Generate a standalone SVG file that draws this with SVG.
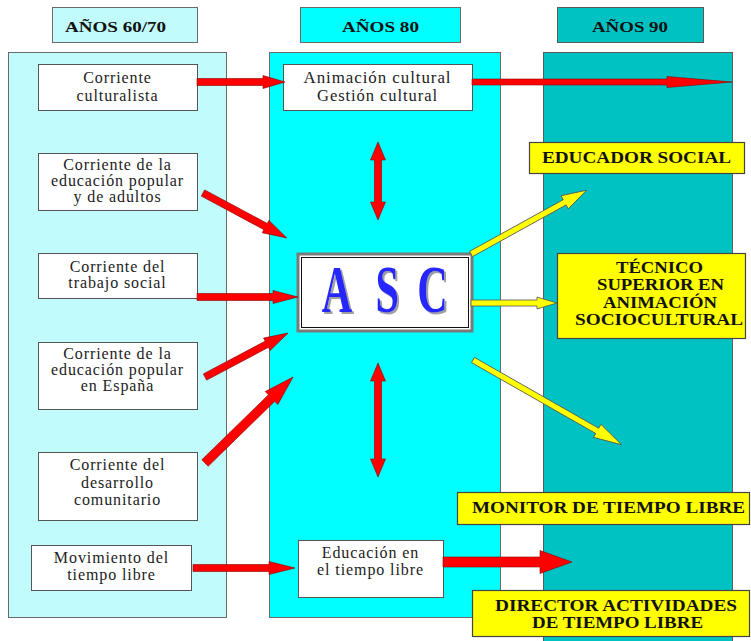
<svg xmlns="http://www.w3.org/2000/svg" width="751" height="641" viewBox="0 0 751 641">
<style>
.c1{fill:#c2fbfb;stroke:#6a6a6a;stroke-width:1}
.c2{fill:#00ffff;stroke:#6a6a6a;stroke-width:1}
.c3{fill:#00c2c2;stroke:#5a5a5a;stroke-width:1}
.wb{fill:#ffffff;stroke:#555;stroke-width:1}
.yb{fill:#ffff00;stroke:#444;stroke-width:1.2}
.hd{font-family:"Liberation Serif","Times New Roman",serif;font-weight:bold;font-size:15px;fill:#111}
.tx{font-family:"Liberation Serif","Times New Roman",serif;font-size:16px;letter-spacing:0.9px;fill:#222;text-anchor:middle}
.yt{font-family:"Liberation Serif","Times New Roman",serif;font-weight:bold;font-size:16px;fill:#111}
.ra{fill:#ff0000;stroke:#8a0000;stroke-width:0.6}
.ya{fill:#ffff00;stroke:#555;stroke-width:0.8}
.asc{font-family:"Liberation Serif","Times New Roman",serif;font-weight:bold;font-size:68px;text-anchor:middle;fill:#2626ff}
</style>
<defs>
<filter id="shadow" x="-20%" y="-20%" width="150%" height="150%">
<feFlood flood-color="#a0a0a0" result="f"/>
<feComposite in="f" in2="SourceAlpha" operator="in" result="s"/>
<feOffset in="s" dx="4" dy="2" result="o"/>
<feMerge><feMergeNode in="o"/><feMergeNode in="SourceGraphic"/></feMerge>
</filter>
</defs>
<rect width="751" height="641" fill="#ffffff"/>
<g id="columns">
<rect class="c1" x="8.5" y="52.5" width="218" height="565"/>
<rect class="c2" x="269.5" y="52.5" width="231" height="565"/>
<rect class="c3" x="543.5" y="52.5" width="189" height="595"/>
</g>
<g id="h6070"><rect class="c1" x="52.5" y="7.5" width="145" height="35"/><text class="hd" x="65" y="32" textLength="101" lengthAdjust="spacingAndGlyphs">AÑOS 60/70</text></g>
<g id="h80"><rect class="c2" x="300.5" y="7.5" width="160" height="35"/><text class="hd" x="342" y="32" textLength="77" lengthAdjust="spacingAndGlyphs">AÑOS 80</text></g>
<g id="h90"><rect class="c3" x="557.5" y="7.5" width="146" height="35"/><text class="hd" x="592" y="32" textLength="76" lengthAdjust="spacingAndGlyphs">AÑOS 90</text></g>

<g id="culturalista"><rect class="wb" x="38.5" y="64.5" width="159" height="46"/><text class="tx" x="117.5" y="83">Corriente</text><text class="tx" x="117.5" y="101">culturalista</text></g>
<g id="popular-adultos"><rect class="wb" x="38.5" y="153.5" width="159" height="57"/><text class="tx" x="117.5" y="170">Corriente de la</text><text class="tx" x="117.5" y="186">educación popular</text><text class="tx" x="117.5" y="202">y de adultos</text></g>
<g id="trabajo-social"><rect class="wb" x="38.5" y="253.5" width="159" height="45"/><text class="tx" x="117.5" y="272">Corriente del</text><text class="tx" x="117.5" y="288">trabajo social</text></g>
<g id="popular-espana"><rect class="wb" x="38.5" y="342.5" width="159" height="67"/><text class="tx" x="117.5" y="359">Corriente de la</text><text class="tx" x="117.5" y="375">educación popular</text><text class="tx" x="117.5" y="391">en España</text></g>
<g id="desarrollo"><rect class="wb" x="38.5" y="452.5" width="159" height="68"/><text class="tx" x="117.5" y="470">Corriente del</text><text class="tx" x="117.5" y="488">desarrollo</text><text class="tx" x="117.5" y="505">comunitario</text></g>
<g id="movimiento"><rect class="wb" x="31.5" y="545.5" width="160" height="45"/><text class="tx" x="111.5" y="563">Movimiento del</text><text class="tx" x="111.5" y="580">tiempo libre</text></g>

<g id="animacion"><rect class="wb" x="283.5" y="64.5" width="189" height="46"/><text class="tx" x="377.5" y="83" textLength="148" lengthAdjust="spacingAndGlyphs">Animación cultural</text><text class="tx" x="377.5" y="101" textLength="121" lengthAdjust="spacingAndGlyphs">Gestión cultural</text></g>
<g id="asc">
<rect x="298" y="254" width="174" height="77" fill="#ffffff" stroke="#7a7a7a" stroke-width="3"/>
<rect x="301.5" y="257.5" width="167" height="70" fill="none" stroke="#111" stroke-width="1"/>
<g transform="scale(0.62,1)" filter="url(#shadow)">
<text class="asc" x="543.5" y="312">A</text>
<text class="asc" x="624.5" y="312">S</text>
<text class="asc" x="697.5" y="312">C</text>
</g>
</g>
<g id="educacion-tl"><rect class="wb" x="298.5" y="540.5" width="145" height="57"/><text class="tx" x="370.5" y="558">Educación en</text><text class="tx" x="370.5" y="575">el tiempo libre</text></g>

<g id="educador"><rect class="yb" x="529.5" y="142.5" width="215" height="31"/><text class="yt" x="542" y="163" textLength="189" lengthAdjust="spacingAndGlyphs">EDUCADOR SOCIAL</text></g>
<g id="tecnico"><rect class="yb" x="557.5" y="253.5" width="188" height="85"/>
<text class="yt" x="616" y="273" textLength="87" lengthAdjust="spacingAndGlyphs">TÉCNICO</text>
<text class="yt" x="597" y="290" textLength="127" lengthAdjust="spacingAndGlyphs">SUPERIOR EN</text>
<text class="yt" x="603" y="308" textLength="114" lengthAdjust="spacingAndGlyphs">ANIMACIÓN</text>
<text class="yt" x="575" y="325" textLength="168" lengthAdjust="spacingAndGlyphs">SOCIOCULTURAL</text></g>
<g id="monitor"><rect class="yb" x="457.5" y="492.5" width="292" height="32"/><text class="yt" x="472" y="513" textLength="273" lengthAdjust="spacingAndGlyphs">MONITOR DE TIEMPO LIBRE</text></g>
<g id="director"><rect class="yb" x="472.5" y="590.5" width="277" height="46"/><text class="yt" x="495" y="611" textLength="242" lengthAdjust="spacingAndGlyphs">DIRECTOR ACTIVIDADES</text><text class="yt" x="532" y="628" textLength="171" lengthAdjust="spacingAndGlyphs">DE TIEMPO LIBRE</text></g>

<g id="connectors">
<polygon class="ra" transform="translate(197,82)" points="0,-3.5 66,-3.5 66,-6.5 88,0 66,6.5 66,3.5 0,3.5"/>
<polygon class="ra" transform="translate(203,193) rotate(28.2)" points="0,-3.5 71,-3.5 71,-7 95,0 71,7 71,3.5 0,3.5"/>
<polygon class="ra" transform="translate(197,297)" points="0,-3.5 76,-3.5 76,-6.5 101,0 76,6.5 76,3.5 0,3.5"/>
<polygon class="ra" transform="translate(205,377) rotate(-27.9)" points="0,-3.5 70,-3.5 70,-7 94,0 70,7 70,3.5 0,3.5"/>
<polygon class="ra" transform="translate(205,463) rotate(-44.3)" points="0,-4.5 93,-4.5 93,-9 123,0 93,9 93,4.5 0,4.5"/>
<polygon class="ra" transform="translate(193,568)" points="0,-3.5 76,-3.5 76,-6.5 102,0 76,6.5 76,3.5 0,3.5"/>
<polygon class="ra" transform="translate(472,82)" points="0,-3 195,-3 195,-5.5 260,0 195,5.5 195,3 0,3"/>
<polygon class="ra" transform="translate(443,562)" points="0,-5 97,-5 97,-11.5 129,0 97,11.5 97,5 0,5"/>
<polygon class="ra" transform="translate(378,142) rotate(90)" points="0,0 18,-7.5 18,-3.5 60,-3.5 60,-7.5 78,0 60,7.5 60,3.5 18,3.5 18,7.5"/>
<polygon class="ra" transform="translate(378,363) rotate(90)" points="0,0 18,-7.5 18,-3.5 96,-3.5 96,-7.5 114,0 96,7.5 96,3.5 18,3.5 18,7.5"/>
<polygon class="ya" transform="translate(471,254) rotate(-28.9)" points="0,-3 107,-3 107,-7.5 132,0 107,7.5 107,3 0,3"/>
<polygon class="ya" transform="translate(471,303)" points="0,-3 66,-3 66,-6 86,0 66,6 66,3 0,3"/>
<polygon class="ya" transform="translate(473,360) rotate(29.7)" points="0,-3 143,-3 143,-7.5 171,0 143,7.5 143,3 0,3"/>
</g>
</svg>
